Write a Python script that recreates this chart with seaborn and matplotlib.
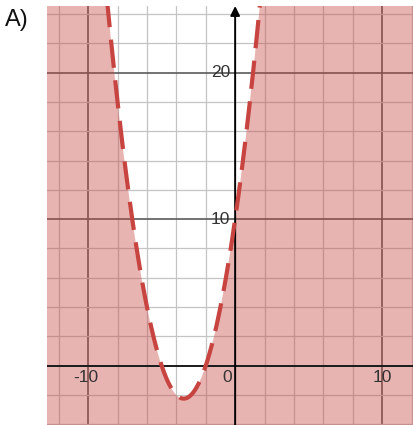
import numpy as np
import matplotlib
matplotlib.use("Agg")
import matplotlib.pyplot as plt
import seaborn as sns

# boundary parabola y = a x^2 + b x + c (shaded region: y < boundary)
coef_a = 1.0
coef_b = 7.0
coef_c = 10.0

x_ticks = [-10, 0, 10]
y_ticks = [10, 20]
x_labels = ["-10", "0", "10"]
y_labels = ["10", "20"]

sns.set_style("white")
plt.rcParams['font.family'] = ['Liberation Sans', 'DejaVu Sans']

xmin, xmax = -12.8, 12.1
ymin, ymax = -4.05, 24.55

fig = plt.figure(figsize=(4.13, 4.25), dpi=100)
ax = fig.add_axes([47 / 413, 0, 366 / 413, 419 / 425])
ax.set_xlim(xmin, xmax)
ax.set_ylim(ymin, ymax)
for s in ax.spines.values():
    s.set_visible(False)
ax.set_xticks([])
ax.set_yticks([])

# grid
minor_c, major_c = "#c4c4c4", "#5a5a5a"
for gx in range(-12, 13, 2):
    if gx == 0:
        continue
    major = gx % 10 == 0
    ax.axvline(gx, color=major_c if major else minor_c, lw=1.2 if major else 0.9, zorder=1)
for gy in range(-4, 25, 2):
    if gy == 0:
        continue
    major = gy % 10 == 0
    ax.axhline(gy, color=major_c if major else minor_c, lw=1.2 if major else 0.9, zorder=1)

xs = np.linspace(xmin - 1, xmax + 1, 800)
ys = coef_a * xs ** 2 + coef_b * xs + coef_c
ax.fill_between(xs, ymin - 5, np.minimum(ys, ymax + 5), color="#c74440", alpha=0.4, lw=0, zorder=2)

# axes
ax.axhline(0, color="#1a1a1a", lw=1.4, zorder=3)
ax.annotate("", xy=(0, ymax), xytext=(0, ymin),
            arrowprops=dict(arrowstyle="-|>", color="black", lw=1.4, mutation_scale=14,
                            shrinkA=0, shrinkB=0), zorder=3, annotation_clip=False)

line = sns.lineplot(x=xs, y=ys, ax=ax, color="#c74440", lw=3, zorder=4)
line.lines[-1].set_dashes((6.8, 3.0))

# tick labels
fs = 12.5
ax.text(-10.17, -0.8, x_labels[0], ha="center", va="center", fontsize=fs, color="#333333", zorder=5)
ax.text(-0.55, -0.8, x_labels[1], ha="center", va="center", fontsize=fs, color="#333333", zorder=5)
ax.text(10.0, -0.8, x_labels[2], ha="center", va="center", fontsize=fs, color="#333333", zorder=5)
for yt, lab in zip(y_ticks, y_labels):
    ax.text(-0.35, yt, lab, ha="right", va="center", fontsize=fs, color="#333333", zorder=5)

fig.text(5 / 413, 1 - 20 / 425, "A)", ha="left", va="center", fontsize=17, color="#111111")

fig.savefig("out.png", dpi=100)
